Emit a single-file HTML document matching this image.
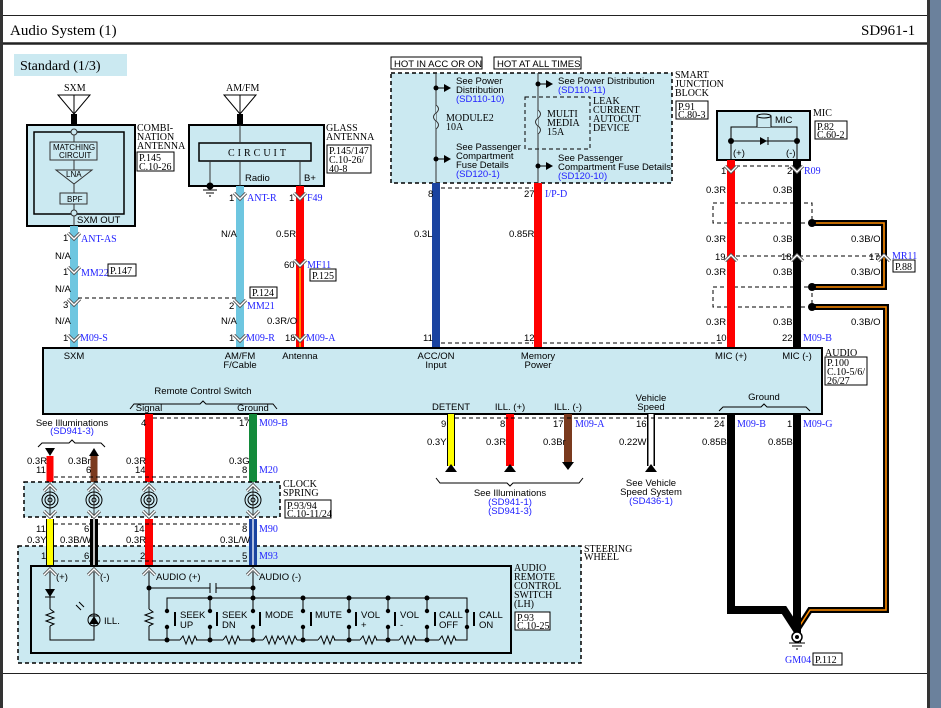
<!DOCTYPE html>
<html><head><meta charset="utf-8">
<style>
html,body{margin:0;padding:0;background:#fff;}
svg{display:block;}
.s{font-family:"Liberation Sans",sans-serif;font-size:9.5px;fill:#000;}
.r{font-family:"Liberation Serif",serif;font-size:10px;fill:#000;}
.b{font-family:"Liberation Serif",serif;font-size:10px;fill:#2222ff;}
.bs{font-family:"Liberation Sans",sans-serif;font-size:9.5px;fill:#2222ff;}
.bx{fill:#cbe9f1;stroke:#000;stroke-width:2;}
.db{fill:#cbe9f1;stroke:#000;stroke-width:1.5;stroke-dasharray:4,3;}
.dl{fill:none;stroke:#000;stroke-width:1;stroke-dasharray:4,3;}
.ln{fill:none;stroke:#000;stroke-width:1;}
.rb{fill:#fff;stroke:#000;stroke-width:1;}
.ou{stroke:#000;stroke-width:8;fill:none;}
</style></head><body>
<svg width="941" height="708" viewBox="0 0 941 708" xmlns="http://www.w3.org/2000/svg">
<defs>
<g id="cv"><path d="M-6,-5 L0,1 L6,-5" fill="none" stroke="#555" stroke-width="3.2"/><path d="M-6,-5 L0,1 L6,-5" fill="none" stroke="#fff" stroke-width="1.4"/></g>
<g id="cu"><path d="M-6,5 L0,-1 L6,5" fill="none" stroke="#555" stroke-width="3.2"/><path d="M-6,5 L0,-1 L6,5" fill="none" stroke="#fff" stroke-width="1.4"/></g>
<g id="sp"><circle r="8" fill="none" stroke="#000"/><circle r="5" fill="none" stroke="#000"/><circle r="2" fill="none" stroke="#000"/></g>
<g id="res"><path d="M0,0 l3,-4 l3,8 l3,-8 l3,8 l3,-8 l2,4" fill="none" stroke="#000"/></g>
</defs>
<!-- frame -->
<rect x="0" y="0" width="941" height="708" fill="#fff"/>
<rect x="0" y="0" width="3" height="708" fill="#333"/>
<rect x="927" y="0" width="3" height="708" fill="#333"/>
<rect x="930" y="0" width="11" height="708" fill="#6b819c"/>
<line x1="3" y1="15.5" x2="927" y2="15.5" stroke="#222"/>
<line x1="3" y1="43.5" x2="927" y2="43.5" stroke="#222" stroke-width="2.5"/>
<line x1="3" y1="673.5" x2="927" y2="673.5" stroke="#222"/>
<text x="10" y="35" style="font-family:'Liberation Serif',serif;font-size:15px">Audio System (1)</text>
<text x="861" y="35" style="font-family:'Liberation Serif',serif;font-size:15px">SD961-1</text>
<rect x="14" y="54" width="113" height="22" fill="#cbe9f1"/>
<text x="20" y="70" style="font-family:'Liberation Serif',serif;font-size:14px">Standard (1/3)</text>

<!-- SXM antenna -->
<text x="64" y="91" class="r">SXM</text>
<path d="M58,95 L90,95 L74,114 Z M74,95 L74,125" class="ln"/>
<rect x="71" y="114" width="6" height="10" fill="#000"/>
<rect x="27" y="125" width="108" height="101" class="bx"/>
<rect x="34" y="132" width="90" height="82" fill="none" stroke="#000" stroke-width="1.5"/>
<line x1="74" y1="132" x2="74" y2="226" stroke="#333"/>
<rect x="50" y="142" width="47" height="18" fill="#cbe9f1" stroke="#333"/>
<text x="53" y="150" class="s" style="font-size:8px">MATCHING</text><text x="59" y="158" class="s" style="font-size:8px">CIRCUIT</text>
<path d="M56,170 L92,170 L74,184 Z" fill="#cbe9f1" stroke="#333"/>
<text x="66" y="177" class="s" style="font-size:8px">LNA</text>
<rect x="60" y="193" width="27" height="11" fill="#cbe9f1" stroke="#333"/>
<text x="67" y="202" class="s" style="font-size:8px">BPF</text>
<circle cx="74" cy="132" r="3" fill="#cbe9f1" stroke="#333"/><circle cx="74" cy="213" r="3" fill="#cbe9f1" stroke="#333"/>
<text x="77" y="223" class="s">SXM OUT</text>
<text x="137" y="131" class="r">COMBI-</text><text x="137" y="140" class="r">NATION</text><text x="137" y="149" class="r">ANTENNA</text>
<rect x="137" y="152" width="37" height="19" class="rb"/><text x="139" y="161" class="r">P.145</text><text x="139" y="170" class="r">C.10-26</text>

<!-- AMFM antenna -->
<text x="226" y="91" class="r">AM/FM</text>
<path d="M224,95 L256,95 L240,114 Z M240,95 L240,125" class="ln"/>
<rect x="237" y="114" width="6" height="10" fill="#000"/>
<rect x="189" y="125" width="135" height="61" class="bx"/>
<rect x="199" y="143" width="112" height="18" fill="none" stroke="#000" stroke-width="1.5"/>
<text x="228" y="156" class="r" style="letter-spacing:3px">CIRCUIT</text>
<line x1="240" y1="125" x2="240" y2="143" stroke="#333"/><line x1="240" y1="161" x2="240" y2="186" stroke="#333"/>
<line x1="300" y1="161" x2="300" y2="186" stroke="#333"/><line x1="210" y1="161" x2="210" y2="185" stroke="#333"/>
<circle cx="210" cy="186" r="3.5" fill="#000"/>
<path d="M203,190 h14 M206,193 h8 M209,196 h2" stroke="#000"/>
<text x="245" y="181" class="s">Radio</text><text x="304" y="181" class="s">B+</text>
<text x="326" y="131" class="r">GLASS</text><text x="326" y="140" class="r">ANTENNA</text>
<rect x="327" y="145" width="44" height="28" class="rb"/><text x="329" y="154" class="r">P.145/147</text><text x="329" y="163" class="r">C.10-26/</text><text x="329" y="172" class="r">40-8</text>

<!-- wires top-left -->
<line x1="74" y1="226" x2="74" y2="348" class="ou"/><line x1="74" y1="226" x2="74" y2="348" stroke="#6ec6e0" stroke-width="6"/>
<line x1="240" y1="186" x2="240" y2="348" class="ou" stroke="#6ec6e0"/><line x1="240" y1="186" x2="240" y2="348" stroke="#6ec6e0" stroke-width="8"/>
<line x1="74" y1="226" x2="74" y2="348" stroke="#6ec6e0" stroke-width="8"/>
<line x1="300" y1="186" x2="300" y2="348" stroke="#ff0000" stroke-width="8"/>
<line x1="300" y1="268" x2="300" y2="348" stroke="#ff8c00" stroke-width="2"/>
<line x1="78" y1="298" x2="236" y2="298" class="dl"/>
<use href="#cv" x="74" y="238"/><use href="#cv" x="74" y="272"/><use href="#cv" x="74" y="304"/>
<use href="#cv" x="240" y="198"/><use href="#cv" x="240" y="305"/>
<use href="#cv" x="300" y="198"/><use href="#cv" x="300" y="265"/>
<text x="63" y="241" class="s">1</text><text x="81" y="242" class="b">ANT-AS</text>
<text x="55" y="259" class="s">N/A</text>
<text x="63" y="275" class="s">1</text><text x="81" y="276" class="b">MM22</text>
<rect x="108" y="264" width="28" height="12" class="rb"/><text x="110" y="274" class="r">P.147</text>
<text x="55" y="292" class="s">N/A</text>
<text x="63" y="308" class="s">3</text>
<text x="55" y="324" class="s">N/A</text>
<text x="63" y="341" class="s">1</text><text x="80" y="341" class="b">M09-S</text>
<text x="229" y="201" class="s">1</text><text x="247" y="201" class="b">ANT-R</text>
<text x="221" y="237" class="s">N/A</text>
<rect x="250" y="287" width="27" height="11" class="rb"/><text x="252" y="296" class="r">P.124</text>
<text x="229" y="309" class="s">2</text><text x="247" y="309" class="b">MM21</text>
<text x="221" y="324" class="s">N/A</text>
<text x="229" y="341" class="s">1</text><text x="246" y="341" class="b">M09-R</text>
<text x="289" y="201" class="s">1</text><text x="307" y="201" class="b">F49</text>
<text x="276" y="237" class="s">0.5R</text>
<text x="284" y="268" class="s">60</text><text x="307" y="268" class="b">MF11</text>
<rect x="310" y="269" width="26" height="12" class="rb"/><text x="312" y="279" class="r">P.125</text>
<text x="267" y="324" class="s">0.3R/O</text>
<text x="285" y="341" class="s">18</text><text x="306" y="341" class="b">M09-A</text>

<!-- smart junction block -->
<rect x="391" y="57" width="91" height="12" class="rb"/><text x="394" y="67" class="s">HOT IN ACC OR ON</text>
<rect x="494" y="57" width="87" height="12" class="rb"/><text x="497" y="67" class="s">HOT AT ALL TIMES</text>
<rect x="391" y="73" width="281" height="110" class="db"/>
<rect x="525" y="97" width="65" height="52" class="dl"/>
<line x1="436" y1="73" x2="436" y2="183" stroke="#333"/><line x1="538" y1="73" x2="538" y2="183" stroke="#333"/>
<path d="M436,105 q5,4 0,8 q-5,4 0,8 q5,4 0,8" fill="#cbe9f1" stroke="#333"/>
<path d="M538,110 q5,4 0,8 q-5,4 0,8 q5,4 0,8" fill="#cbe9f1" stroke="#333"/>
<circle cx="436" cy="88" r="2.5"/><path d="M436,88 h8" stroke="#000"/><path d="M444,84 l7,4 l-7,4z"/>
<circle cx="436" cy="159" r="2.5"/><path d="M436,159 h8" stroke="#000"/><path d="M444,155 l7,4 l-7,4z"/>
<circle cx="538" cy="84" r="2.5"/><path d="M538,84 h8" stroke="#000"/><path d="M546,80 l7,4 l-7,4z"/>
<circle cx="538" cy="166" r="2.5"/><path d="M538,166 h8" stroke="#000"/><path d="M546,162 l7,4 l-7,4z"/>
<text x="456" y="84" class="s">See Power</text><text x="456" y="93" class="s">Distribution</text><text x="456" y="102" class="bs">(SD110-10)</text>
<text x="446" y="121" class="r">MODULE2</text><text x="446" y="130" class="r">10A</text>
<text x="456" y="150" class="s">See Passenger</text><text x="456" y="159" class="s">Compartment</text><text x="456" y="168" class="s">Fuse Details</text><text x="456" y="177" class="bs">(SD120-1)</text>
<text x="558" y="84" class="s">See Power Distribution</text><text x="558" y="93" class="bs">(SD110-11)</text>
<text x="547" y="117" class="r">MULTI</text><text x="547" y="126" class="r">MEDIA</text><text x="547" y="135" class="r">15A</text>
<text x="593" y="104" class="r">LEAK</text><text x="593" y="113" class="r">CURRENT</text><text x="593" y="122" class="r">AUTOCUT</text><text x="593" y="131" class="r">DEVICE</text>
<text x="558" y="161" class="s">See Passenger</text><text x="558" y="170" class="s">Compartment Fuse Details</text><text x="558" y="179" class="bs">(SD120-10)</text>
<text x="675" y="78" class="r">SMART</text><text x="675" y="87" class="r">JUNCTION</text><text x="675" y="96" class="r">BLOCK</text>
<rect x="676" y="101" width="32" height="18" class="rb"/><text x="678" y="110" class="r">P.91</text><text x="678" y="118" class="r">C.80-3</text>
<line x1="436" y1="183" x2="436" y2="348" stroke="#1a43a0" stroke-width="8"/>
<line x1="538" y1="183" x2="538" y2="348" stroke="#ff0000" stroke-width="8"/>
<line x1="441" y1="188" x2="533" y2="188" class="dl"/><line x1="441" y1="343" x2="533" y2="343" class="dl"/><line x1="543" y1="343" x2="725" y2="343" class="dl"/>
<text x="428" y="197" class="s">8</text><text x="414" y="237" class="s">0.3L</text><text x="423" y="341" class="s">11</text>
<text x="524" y="197" class="s">27</text><text x="545" y="197" class="b">I/P-D</text><text x="509" y="237" class="s">0.85R</text><text x="524" y="341" class="s">12</text>

<!-- MIC -->
<rect x="717" y="111" width="93" height="49" class="bx"/>
<path d="M731,160 V127 H797 V160" class="ln"/>
<path d="M757,127 V116 H771 V127" fill="#cbe9f1" stroke="#000"/><ellipse cx="764" cy="116" rx="7" ry="2" fill="#cbe9f1" stroke="#000"/>
<text x="775" y="123" class="s">MIC</text>
<line x1="731" y1="141" x2="797" y2="141" stroke="#000"/>
<circle cx="731" cy="141" r="3"/><circle cx="797" cy="141" r="3"/>
<path d="M760,137 l7,4 l-7,4z"/><path d="M768,137 v8" stroke="#000"/>
<text x="733" y="156" class="s">(+)</text><text x="786" y="156" class="s">(-)</text>
<text x="813" y="116" class="r">MIC</text>
<rect x="815" y="121" width="32" height="18" class="rb"/><text x="817" y="130" class="r">P.82</text><text x="817" y="138" class="r">C.60-2</text>
<rect x="713" y="203" width="99" height="20" class="dl"/>
<rect x="713" y="287" width="99" height="20" class="dl"/>
<line x1="736" y1="166" x2="792" y2="166" class="dl"/><line x1="736" y1="256" x2="880" y2="256" class="dl"/>
<!-- orange loops -->
<path d="M812,223 H884 V287 H812" fill="none" stroke="#000" stroke-width="6"/><path d="M812,223 H884 V287 H812" fill="none" stroke="#ff8c00" stroke-width="1.6"/>
<path d="M812,307 H886 V610 H810 L797,630" fill="none" stroke="#000" stroke-width="6"/><path d="M812,307 H886 V610 H810 L797,630" fill="none" stroke="#ff8c00" stroke-width="1.6"/>
<path d="M731,414 V610 H784 L797,630 L797,414" fill="none" stroke="#000" stroke-width="8"/>
<line x1="731" y1="160" x2="731" y2="348" stroke="#ff0000" stroke-width="8"/>
<line x1="797" y1="160" x2="797" y2="348" stroke="#000" stroke-width="8"/>
<circle cx="812" cy="223" r="4"/><circle cx="812" cy="287" r="4"/><circle cx="812" cy="307" r="4"/>
<use href="#cv" x="731" y="171"/><use href="#cv" x="797" y="171"/>
<use href="#cu" x="731" y="256"/><use href="#cu" x="797" y="256"/><use href="#cu" x="884" y="256"/>
<text x="721" y="174" class="s">1</text><text x="787" y="174" class="s">2</text><text x="804" y="174" class="b">R09</text>
<text x="706" y="193" class="s">0.3R</text><text x="773" y="193" class="s">0.3B</text>
<text x="706" y="242" class="s">0.3R</text><text x="773" y="242" class="s">0.3B</text><text x="851" y="242" class="s">0.3B/O</text>
<text x="715" y="260" class="s">19</text><text x="781" y="260" class="s">18</text><text x="869" y="260" class="s">17</text><text x="892" y="259" class="b">MR11</text>
<rect x="893" y="260" width="22" height="12" class="rb"/><text x="895" y="270" class="r">P.88</text>
<text x="706" y="275" class="s">0.3R</text><text x="773" y="275" class="s">0.3B</text><text x="851" y="275" class="s">0.3B/O</text>
<text x="706" y="325" class="s">0.3R</text><text x="773" y="325" class="s">0.3B</text><text x="851" y="325" class="s">0.3B/O</text>
<text x="716" y="341" class="s">10</text><text x="782" y="341" class="s">22</text><text x="803" y="341" class="b">M09-B</text>
<use href="#cv" x="74" y="340"/><use href="#cv" x="240" y="340"/><use href="#cv" x="300" y="340"/>

<!-- AUDIO box -->
<rect x="43" y="348" width="779" height="66" class="bx"/>
<text x="825" y="356" class="r">AUDIO</text>
<rect x="825" y="357" width="42" height="28" class="rb"/><text x="827" y="366" class="r">P.100</text><text x="827" y="375" class="r">C.10-5/6/</text><text x="827" y="384" class="r">26/27</text>
<text x="74" y="359" class="s" text-anchor="middle">SXM</text>
<text x="240" y="359" class="s" text-anchor="middle">AM/FM</text><text x="240" y="368" class="s" text-anchor="middle">F/Cable</text>
<text x="300" y="359" class="s" text-anchor="middle">Antenna</text>
<text x="436" y="359" class="s" text-anchor="middle">ACC/ON</text><text x="436" y="368" class="s" text-anchor="middle">Input</text>
<text x="538" y="359" class="s" text-anchor="middle">Memory</text><text x="538" y="368" class="s" text-anchor="middle">Power</text>
<text x="731" y="359" class="s" text-anchor="middle">MIC (+)</text><text x="797" y="359" class="s" text-anchor="middle">MIC (-)</text>
<text x="203" y="394" class="s" text-anchor="middle">Remote Control Switch</text>
<path d="M130,409 l4,-5 H200 l3,-3 l3,3 H273 l4,5" class="ln" stroke="#555"/>
<text x="149" y="411" class="s" text-anchor="middle">Signal</text><text x="253" y="411" class="s" text-anchor="middle">Ground</text>
<text x="451" y="410" class="s" text-anchor="middle">DETENT</text><text x="510" y="410" class="s" text-anchor="middle">ILL. (+)</text><text x="568" y="410" class="s" text-anchor="middle">ILL. (-)</text>
<text x="651" y="401" class="s" text-anchor="middle">Vehicle</text><text x="651" y="410" class="s" text-anchor="middle">Speed</text>
<text x="764" y="400" class="s" text-anchor="middle">Ground</text>
<path d="M719,411 l4,-4 H761 l3,-3 l3,3 H806 l4,4" class="ln" stroke="#555"/>

<!-- bottom wires -->
<line x1="451" y1="414" x2="451" y2="466" stroke="#000" stroke-width="8"/><line x1="451" y1="414" x2="451" y2="466" stroke="#ffff00" stroke-width="6"/>
<line x1="510" y1="414" x2="510" y2="466" stroke="#ff0000" stroke-width="8"/>
<line x1="568" y1="414" x2="568" y2="462" stroke="#7a3a1e" stroke-width="8"/>
<line x1="651" y1="414" x2="651" y2="466" stroke="#000" stroke-width="8"/><line x1="651" y1="414" x2="651" y2="466" stroke="#fff" stroke-width="5"/>
<path d="M445,472 l6,-8 l6,8z"/><path d="M504,472 l6,-8 l6,8z"/><path d="M562,462 l6,8 l6,-8z"/><path d="M645,472 l6,-8 l6,8z"/>
<line x1="455" y1="418" x2="725" y2="418" class="dl"/>
<path d="M436,478 l4,5 H507 l3,3 l3,-3 H579 l4,-5" class="ln" stroke="#555"/>
<text x="510" y="496" class="s" text-anchor="middle">See Illuminations</text><text x="510" y="505" class="bs" text-anchor="middle">(SD941-1)</text><text x="510" y="514" class="bs" text-anchor="middle">(SD941-3)</text>
<text x="651" y="486" class="s" text-anchor="middle">See Vehicle</text><text x="651" y="495" class="s" text-anchor="middle">Speed System</text><text x="651" y="504" class="bs" text-anchor="middle">(SD436-1)</text>
<text x="441" y="427" class="s">9</text><text x="427" y="445" class="s">0.3Y</text>
<text x="500" y="427" class="s">8</text><text x="486" y="445" class="s">0.3R</text>
<text x="553" y="427" class="s">17</text><text x="575" y="427" class="b">M09-A</text><text x="543" y="445" class="s">0.3Br</text>
<text x="636" y="427" class="s">16</text><text x="619" y="445" class="s">0.22W</text>
<text x="714" y="427" class="s">24</text><text x="737" y="427" class="b">M09-B</text><text x="702" y="445" class="s">0.85B</text>
<text x="787" y="427" class="s">1</text><text x="803" y="427" class="b">M09-G</text><text x="768" y="445" class="s">0.85B</text>
<!-- ground -->
<circle cx="797" cy="637" r="5" fill="#fff" stroke="#000" stroke-width="1.5"/><circle cx="797" cy="637" r="2"/>
<path d="M789,643 h16 M792,646 h10 M796,649 h2" stroke="#000"/>
<text x="785" y="663" class="b">GM04</text>
<rect x="813" y="653" width="29" height="12" class="rb"/><text x="815" y="663" class="r">P.112</text>

<!-- left illum -->
<text x="72" y="426" class="s" text-anchor="middle">See Illuminations</text><text x="72" y="434" class="bs" text-anchor="middle">(SD941-3)</text>
<path d="M38,447 l4,-4 H69 l3,-3 l3,3 H101 l4,4" class="ln" stroke="#555"/>
<path d="M45,448 l5,8 l5,-8z"/><path d="M89,456 l5,-8 l5,8z"/>
<line x1="50" y1="456" x2="50" y2="482" stroke="#ff0000" stroke-width="7"/>
<line x1="94" y1="456" x2="94" y2="482" stroke="#7a3a1e" stroke-width="7"/>
<line x1="149" y1="414" x2="149" y2="482" stroke="#ff0000" stroke-width="8"/>
<line x1="253" y1="414" x2="253" y2="482" stroke="#138a3a" stroke-width="8"/>
<line x1="153" y1="418" x2="249" y2="418" class="dl"/>
<line x1="54" y1="477" x2="249" y2="477" class="dl"/>
<text x="27" y="464" class="s">0.3R</text><text x="36" y="473" class="s">11</text>
<text x="68" y="464" class="s">0.3Br</text><text x="86" y="473" class="s">6</text>
<text x="141" y="426" class="s">4</text><text x="126" y="464" class="s">0.3R</text><text x="135" y="473" class="s">14</text>
<text x="239" y="426" class="s">17</text><text x="259" y="426" class="b">M09-B</text>
<text x="229" y="464" class="s">0.3G</text><text x="242" y="473" class="s">8</text><text x="259" y="473" class="b">M20</text>
<!-- clock spring -->
<rect x="24" y="482" width="256" height="35" class="db"/>
<g><line x1="50" y1="482" x2="50" y2="517" stroke="#333"/><line x1="94" y1="482" x2="94" y2="517" stroke="#333"/><line x1="149" y1="482" x2="149" y2="517" stroke="#333"/><line x1="253" y1="482" x2="253" y2="517" stroke="#333"/></g>
<use href="#sp" x="50" y="500"/><use href="#sp" x="94" y="500"/><use href="#sp" x="149" y="500"/><use href="#sp" x="253" y="500"/>
<use href="#cu" x="50" y="486"/><use href="#cu" x="94" y="486"/><use href="#cu" x="149" y="486"/><use href="#cu" x="253" y="486"/>
<use href="#cv" x="50" y="516"/><use href="#cv" x="94" y="516"/><use href="#cv" x="149" y="516"/><use href="#cv" x="253" y="516"/>
<text x="283" y="487" class="r">CLOCK</text><text x="283" y="496" class="r">SPRING</text>
<rect x="285" y="500" width="46" height="18" class="rb"/><text x="287" y="509" class="r">P.93/94</text><text x="287" y="517" class="r">C.10-11/24</text>

<!-- steering wheel -->
<rect x="18" y="546" width="563" height="117" class="db"/>
<text x="584" y="552" class="r">STEERING</text><text x="584" y="560" class="r">WHEEL</text>
<line x1="50" y1="519" x2="50" y2="566" stroke="#000" stroke-width="8"/><line x1="50" y1="519" x2="50" y2="566" stroke="#ffff00" stroke-width="6"/>
<line x1="94" y1="519" x2="94" y2="566" stroke="#000" stroke-width="8"/><line x1="94" y1="519" x2="94" y2="566" stroke="#fff" stroke-width="1.5"/>
<line x1="149" y1="519" x2="149" y2="566" stroke="#ff0000" stroke-width="8"/>
<line x1="253" y1="519" x2="253" y2="566" stroke="#1a43a0" stroke-width="8"/><line x1="253" y1="519" x2="253" y2="566" stroke="#fff" stroke-width="1.3"/>
<line x1="54" y1="524" x2="249" y2="524" class="dl"/><line x1="54" y1="561" x2="249" y2="561" class="dl"/>
<text x="36" y="532" class="s">11</text><text x="27" y="543" class="s">0.3Y</text><text x="41" y="559" class="s">1</text>
<text x="84" y="532" class="s">6</text><text x="60" y="543" class="s">0.3B/W</text><text x="84" y="559" class="s">6</text>
<text x="134" y="532" class="s">14</text><text x="126" y="543" class="s">0.3R</text><text x="140" y="559" class="s">2</text>
<text x="242" y="532" class="s">8</text><text x="259" y="532" class="b">M90</text><text x="220" y="543" class="s">0.3L/W</text><text x="242" y="559" class="s">5</text><text x="259" y="559" class="b">M93</text>
<rect x="31" y="566" width="480" height="87" fill="#cbe9f1" stroke="#000" stroke-width="2"/>
<use href="#cu" x="50" y="570"/><use href="#cu" x="94" y="570"/><use href="#cu" x="149" y="570"/><use href="#cu" x="253" y="570"/>
<text x="56" y="580" class="s">(+)</text><text x="100" y="580" class="s">(-)</text><text x="156" y="580" class="s">AUDIO (+)</text><text x="259" y="580" class="s">AUDIO (-)</text>
<text x="514" y="571" class="r">AUDIO</text><text x="514" y="580" class="r">REMOTE</text><text x="514" y="589" class="r">CONTROL</text><text x="514" y="598" class="r">SWITCH</text><text x="514" y="607" class="r">(LH)</text>
<rect x="515" y="612" width="35" height="18" class="rb"/><text x="517" y="621" class="r">P.93</text><text x="517" y="629" class="r">C.10-25</text>
<!-- left circuit -->
<path d="M50,572 V609 M50,626 V640 H94 V572" class="ln"/>
<path d="M45,589 h10 l-5,8z"/><path d="M45,597 h10" stroke="#000"/>
<g transform="translate(50,609) rotate(90)"><use href="#res"/></g>
<circle cx="94" cy="620" r="6" fill="none" stroke="#000"/><path d="M89,624 h10 l-5,-8z"/><path d="M89,616 h10" stroke="#000"/>
<path d="M76,605 l5,5 M79,602 l5,5" stroke="#000"/>
<text x="104" y="624" class="s">ILL.</text>
<!-- audio circuit -->
<path d="M149,572 V609 M149,626 V640 H467 V598 H167 V608 M253,572 V598" class="ln"/>
<g transform="translate(149,609) rotate(90)"><use href="#res"/></g>
<path d="M149,588 H210 M216,588 H253 M210,583 v10 M216,583 v10" class="ln"/>
<circle cx="149" cy="588" r="2.5"/><circle cx="253" cy="588" r="2.5"/>
<g fill="#000">
<circle cx="167" cy="640" r="2.5"/><circle cx="210" cy="640" r="2.5"/><circle cx="253" cy="640" r="2.5"/><circle cx="303" cy="640" r="2.5"/><circle cx="349" cy="640" r="2.5"/><circle cx="388" cy="640" r="2.5"/><circle cx="427" cy="640" r="2.5"/>
<circle cx="210" cy="598" r="2.5"/><circle cx="253" cy="598" r="2.5"/><circle cx="303" cy="598" r="2.5"/><circle cx="349" cy="598" r="2.5"/><circle cx="388" cy="598" r="2.5"/><circle cx="427" cy="598" r="2.5"/>
</g>
<path d="M167,608 V611 M210,598 V611 M253,598 V611 M303,598 V611 M349,598 V611 M388,598 V611 M427,598 V611 M467,598 V611 M167,627 V640 M210,627 V640 M253,627 V640 M303,627 V640 M349,627 V640 M388,627 V640 M427,627 V640 M467,627 V640" class="ln"/>
<g fill="#000">
<circle cx="167" cy="611" r="2.2"/><circle cx="167" cy="627" r="2.2"/><circle cx="210" cy="611" r="2.2"/><circle cx="210" cy="627" r="2.2"/><circle cx="253" cy="611" r="2.2"/><circle cx="253" cy="627" r="2.2"/><circle cx="303" cy="611" r="2.2"/><circle cx="303" cy="627" r="2.2"/><circle cx="349" cy="611" r="2.2"/><circle cx="349" cy="627" r="2.2"/><circle cx="388" cy="611" r="2.2"/><circle cx="388" cy="627" r="2.2"/><circle cx="427" cy="611" r="2.2"/><circle cx="427" cy="627" r="2.2"/><circle cx="467" cy="611" r="2.2"/><circle cx="467" cy="627" r="2.2"/>
</g>
<path d="M175,612 v14 M217,612 v14 M260,612 v14 M311,612 v14 M356,612 v14 M395,612 v14 M435,612 v14 M474,612 v14" stroke="#000" stroke-width="2"/>
<g fill="#cbe9f1"><rect x="180" y="636" width="16" height="8"/><rect x="223" y="636" width="16" height="8"/><rect x="263" y="636" width="34" height="8"/><rect x="318" y="636" width="16" height="8"/><rect x="360" y="636" width="16" height="8"/><rect x="399" y="636" width="16" height="8"/><rect x="439" y="636" width="16" height="8"/></g>
<use href="#res" x="180" y="640"/><use href="#res" x="223" y="640"/><use href="#res" x="263" y="640"/><use href="#res" x="280" y="640"/><use href="#res" x="318" y="640"/><use href="#res" x="360" y="640"/><use href="#res" x="399" y="640"/><use href="#res" x="439" y="640"/>
<path d="M196,640 h4 M239,640 h4 M334,640 h4 M376,640 h4 M415,640 h4 M455,640 h4" class="ln"/>
<text x="180" y="618" class="s">SEEK</text><text x="180" y="628" class="s">UP</text>
<text x="222" y="618" class="s">SEEK</text><text x="222" y="628" class="s">DN</text>
<text x="265" y="618" class="s">MODE</text>
<text x="315" y="618" class="s">MUTE</text>
<text x="361" y="618" class="s">VOL</text><text x="361" y="628" class="s">+</text>
<text x="400" y="618" class="s">VOL</text><text x="400" y="628" class="s">-</text>
<text x="439" y="618" class="s">CALL</text><text x="439" y="628" class="s">OFF</text>
<text x="479" y="618" class="s">CALL</text><text x="479" y="628" class="s">ON</text>
</svg>
</body></html>
